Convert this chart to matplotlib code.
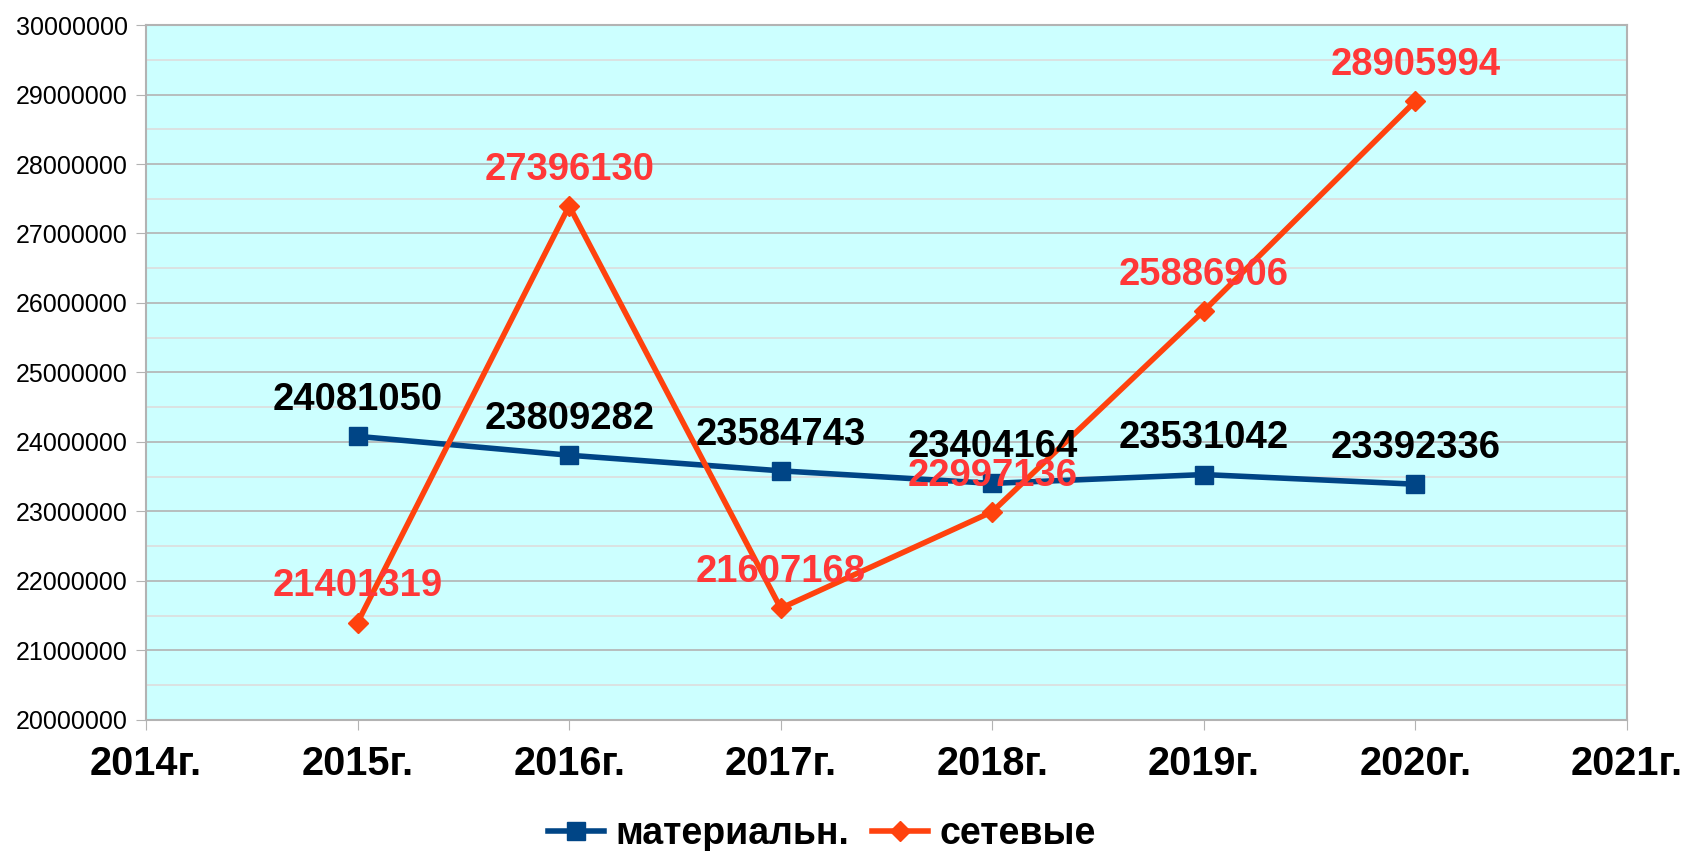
import matplotlib
matplotlib.use('Agg')
import matplotlib.pyplot as plt
from matplotlib.ticker import MultipleLocator, FuncFormatter

plt.rcParams['font.family'] = ['Liberation Sans', 'DejaVu Sans']

years = [2015, 2016, 2017, 2018, 2019, 2020]
tick_years = [2014, 2015, 2016, 2017, 2018, 2019, 2020, 2021]
tick_labels = ['2014г.', '2015г.', '2016г.', '2017г.', '2018г.', '2019г.', '2020г.', '2021г.']
material = [24081050, 23809282, 23584743, 23404164, 23531042, 23392336]
network = [21401319, 27396130, 21607168, 22997136, 25886906, 28905994]

fig = plt.figure(figsize=(16.88, 8.51), dpi=100)
ax = fig.add_axes([0.0865, 0.154, 0.8774, 0.8166])
ax.set_facecolor('#ccffff')

ax.plot(years, material, color='#004586', lw=4, marker='s', ms=13,
        label='материальн.', zorder=3)
ax.plot(years, network, color='#ff420e', lw=4, marker='D', ms=10,
        label='сетевые', zorder=3)

# подписи значений над точками
for x, y in zip(years, material):
    ax.annotate(str(y), (x, y), xytext=(0, 26), textcoords='offset points',
                ha='center', va='center', fontsize=27.5, fontweight='bold',
                color='black', zorder=5)
for x, y in zip(years, network):
    ax.annotate(str(y), (x, y), xytext=(0, 26), textcoords='offset points',
                ha='center', va='center', fontsize=27.5, fontweight='bold',
                color='#ff3838', zorder=5)

ax.set_xlim(2014, 2021)
ax.set_ylim(20000000, 30000000)
ax.set_xticks(tick_years)
ax.set_xticklabels(tick_labels, fontsize=28.5, fontweight='bold')
ax.yaxis.set_major_locator(MultipleLocator(1000000))
ax.yaxis.set_minor_locator(MultipleLocator(500000))
ax.yaxis.set_major_formatter(FuncFormatter(lambda v, p: '%d' % v))
ax.tick_params(axis='y', which='major', labelsize=18, length=7, color='#b3b3b3', pad=6)
ax.tick_params(axis='y', which='minor', length=0)
ax.tick_params(axis='x', length=7, color='#b3b3b3', pad=11)
ax.grid(True, which='major', axis='y', color='#b3b3b3', lw=1.2, zorder=0)
ax.grid(True, which='minor', axis='y', color='#dddddd', lw=1.2, zorder=0)
ax.set_axisbelow(True)
for s in ax.spines.values():
    s.set_color('#b3b3b3')
    s.set_linewidth(1.5)

fig.legend(loc='center', bbox_to_anchor=(0.487, 0.02), ncol=2, frameon=False,
           prop={'size': 27, 'weight': 'bold'}, handlelength=1.5,
           handletextpad=0.3, columnspacing=0.6)

fig.savefig('out.png', dpi=100)
